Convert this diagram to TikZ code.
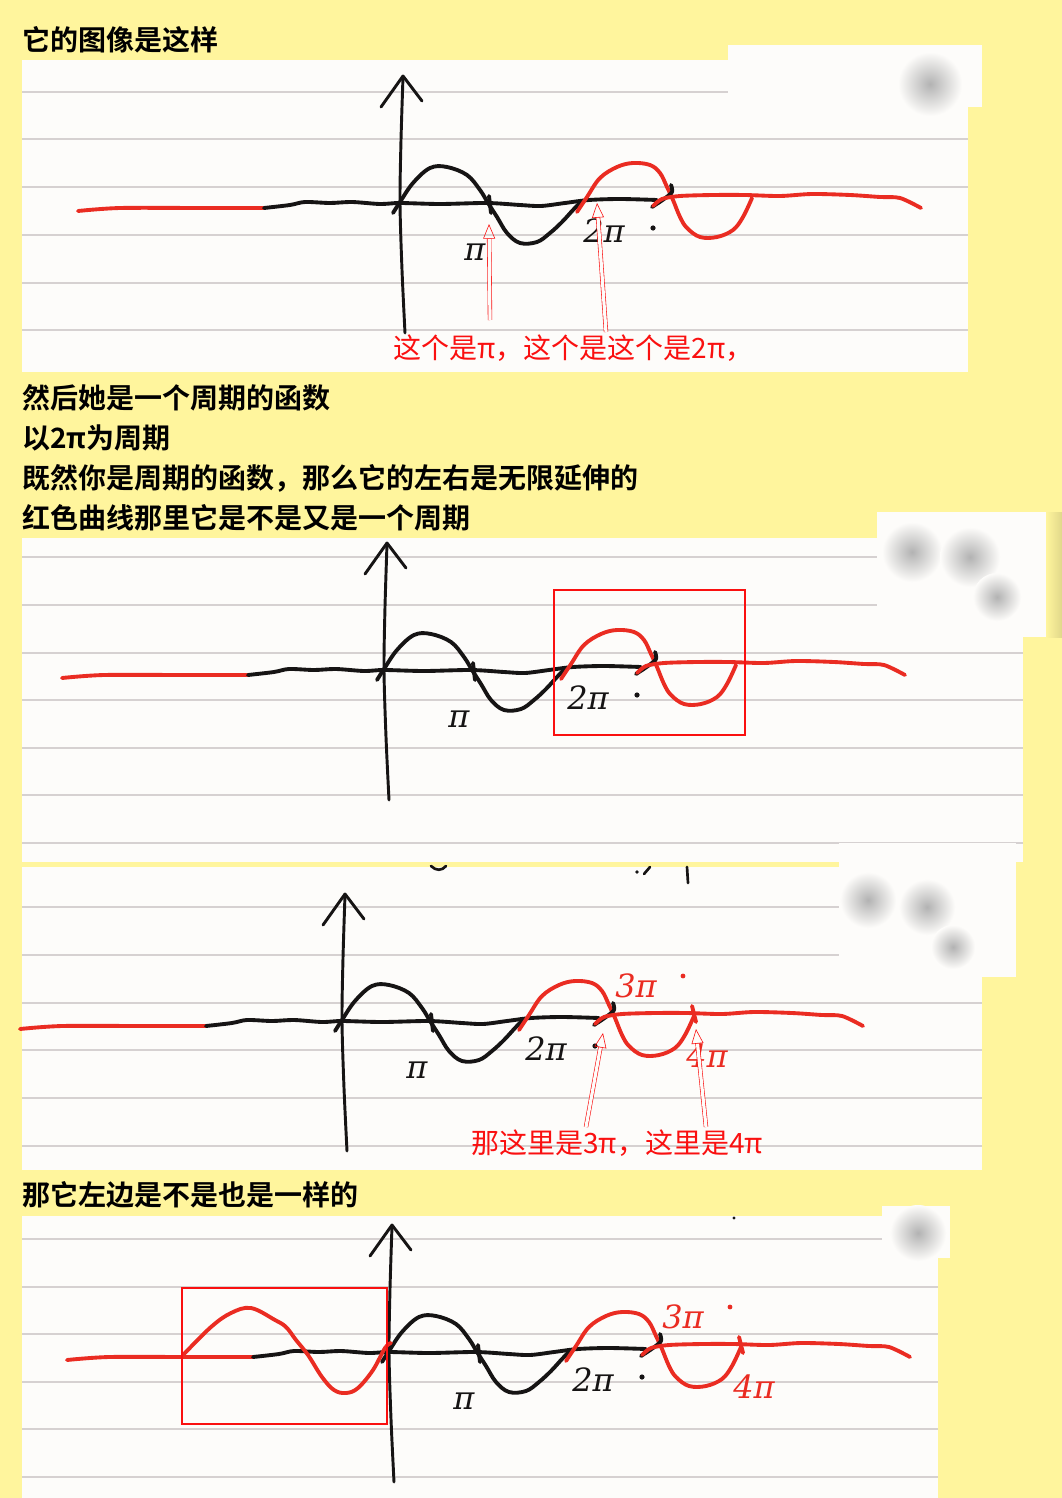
\documentclass[tikz,border=0pt]{standalone}
\usepackage{fontspec}
\newfontfamily\cjk{Noto Sans CJK SC}[BoldFont={Noto Sans CJK SC Bold}]
\newfontfamily\hand{DejaVu Serif}
\usetikzlibrary{arrows.meta}
\definecolor{notebg}{RGB}{255,245,157}
\definecolor{paper}{RGB}{253,252,250}
\definecolor{rulegray}{RGB}{214,209,209}
\definecolor{inkblack}{RGB}{22,20,20}
\definecolor{inkred}{RGB}{234,44,34}
\definecolor{annored}{RGB}{250,16,16}

% the hand-drawn sine sketch, in the coordinates of the first panel
\newcommand{\sinesketch}[1]{%
  \draw[axisink] plot[smooth] coordinates {(405,333) (402,270) (400,203) (401,140) (403,77)};
  \draw[axisink] (381,107) -- (403,76) -- (422,101);
  \draw[redink] plot[smooth] coordinates {(78,211) (120,208) (200,208) (264,208)};
  \draw[blackink] plot[smooth] coordinates {(264,208) (290,205) (305,202) (330,203) (352,202)
    (380,204) (400,203) (440,204) (487,203) (520,205) (541,206) (565,203) (589,200) (620,199) (657,200)};
  \draw[blackink] plot[smooth, tension=0.6] coordinates {(393,213) (400,202) (413,183) (430,168)
    (447,167) (467,175) (480,190) (488,203) (497,217) (507,233) (520,243) (537,242) (550,233)
    (562,222) (573,210) (580,203)};
  \draw[blackink] (489,196) -- (491,213);
  \draw[redink] plot[smooth, tension=0.6] coordinates {(577,212) (587,197) (600,178) (617,167)
    (633,163) (650,165) (660,173) (667,187) (673,200) (680,217) (687,228) (700,237) (717,237)
    (733,230) (743,217) (752,198)};
  \draw[blackink] plot[smooth] coordinates {(652,207) (664,199) (672,192) (671,185)};
  \draw[redink] plot[smooth] coordinates {(653,206) (662,199) (680,196) (713,195) (745,195)
    (780,196) (812,194) (850,195) (880,197) (900,198) (921,208)};
  \node[handblack] (pi-#1) at (475,252) {π};
  \node[handblack] (twopi-#1) at (604,231) {2π};
  \fill[inkblack] (653,228) circle (2.6);
}
% the red 3pi / 4pi marks of the later panels
\newcommand{\redmarks}[1]{%
  \node[handred] (threepi-#1) at (694,168) {3π};
  \fill[inkred] (741,158) circle (2.4);
  \draw[redink] (750,188) -- (754,204);
  \node[handred] (fourpi-#1) at (765,238) {4π};
}

\begin{document}
\begin{tikzpicture}[x=0.75pt, y=-0.75pt,
  heading/.style={anchor=west, inner sep=0pt, text=black,
                  font=\cjk\bfseries\fontsize{21}{21}\selectfont},
  annotext/.style={anchor=west, inner sep=0pt, text=annored,
                   font=\cjk\fontsize{21}{21}\selectfont},
  handblack/.style={inner sep=0pt, text=inkblack, font=\hand\itshape\fontsize{24}{24}\selectfont},
  handred/.style={handblack, text=inkred},
  rulel/.style={draw=rulegray, line width=1.1pt},
  blackink/.style={draw=inkblack, line width=2.9pt, line cap=round, line join=round},
  axisink/.style={blackink, line width=2.2pt},
  redink/.style={draw=inkred, line width=2.9pt, line cap=round, line join=round},
  redbox/.style={draw=annored, line width=2pt},
  hollow/.style={draw=annored, line width=0.45pt, double=paper, double distance=2.4pt,
                 -{Triangle[open, length=11pt, width=9pt]}},
  blob/.style={inner color=black!30, outer color=paper}
]
  \fill[notebg] (0,0) rectangle (1062,1498);
  \useasboundingbox (0,0) rectangle (1062,1498);

  % panel 1
  \node[heading] (title1) at (22,40) {它的图像是这样};
  \fill[paper] (22,60) rectangle (968,372);
  \draw[rulel] (22,92) -- (728,92);
  \foreach \y in {139,187,235,283,330}
    \draw[rulel] (22,\y) -- (968,\y);
  \fill[paper] (728,45) rectangle (982,107);
  \shade[blob] (930,84) circle (32);
  \sinesketch{a}
  \node[annotext] (note-a) at (393,348) {这个是π，这个是这个是2π，};
  \coordinate (tail-a1) at (490,320);
  \coordinate (tip-a1) at (489,224);
  \coordinate (tail-a2) at (606,332);
  \coordinate (tip-a2) at (597,203);
  \draw[hollow] (tail-a1) -- (tip-a1);
  \draw[hollow] (tail-a2) -- (tip-a2);

  % text between
  \node[heading] (line1) at (22,398) {然后她是一个周期的函数};
  \node[heading] (line2) at (22,438) {以2π为周期};
  \node[heading] (line3) at (22,478) {既然你是周期的函数，那么它的左右是无限延伸的};
  \node[heading] (line4) at (22,518) {红色曲线那里它是不是又是一个周期};

  % panel 2
  \fill[paper] (22,538) rectangle (1023,862);
  \foreach \y in {557,605}
    \draw[rulel] (22,\y) -- (877,\y);
  \foreach \y in {653,700,748,795,843}
    \draw[rulel] (22,\y) -- (1023,\y);
  \fill[paper] (877,512) rectangle (1046,637);
  \shade[left color=notebg, right color=notebg!88!black] (1046,512) rectangle (1062,637);
  \shade[blob] (912,552) circle (30);
  \shade[blob] (970,557) circle (30);
  \shade[blob] (997,597) circle (24);
  \begin{scope}[shift={(-16,467)}]
    \sinesketch{b}
  \end{scope}
  \draw[redbox] (554,590) rectangle (745,735);

  % panel 3
  \fill[paper] (22,867) rectangle (982,1170);
  \foreach \y in {907,955}
    \draw[rulel] (22,\y) -- (839,\y);
  \foreach \y in {1003,1050,1098,1146}
    \draw[rulel] (22,\y) -- (982,\y);
  \fill[paper] (839,843) rectangle (1016,977);
  \shade[blob] (868,900) circle (28);
  \shade[blob] (927,907) circle (28);
  \shade[blob] (953,947) circle (22);
  \draw[blackink, line width=2pt] (431,866) .. controls (436,871) and (442,871) .. (446,866);
  \fill[inkblack] (637,872) circle (1.8);
  \draw[blackink, line width=2pt] (644,874) -- (650,867);
  \draw[blackink, line width=2pt] (687,867) -- (688,883);
  \begin{scope}[shift={(-58,818)}]
    \sinesketch{c}
    \redmarks{c}
  \end{scope}
  \node[annotext] (note-c) at (471,1143) {那这里是3π，这里是4π};
  \coordinate (tail-c1) at (586,1127);
  \coordinate (tip-c1) at (603,1033);
  \coordinate (tail-c2) at (706,1127);
  \coordinate (tip-c2) at (696,1029);
  \draw[hollow] (tail-c1) -- (tip-c1);
  \draw[hollow] (tail-c2) -- (tip-c2);

  % panel 4
  \node[heading] (line5) at (22,1195) {那它左边是不是也是一样的};
  \fill[paper] (22,1216) rectangle (938,1498);
  \draw[rulel] (22,1239) -- (882,1239);
  \foreach \y in {1287,1334,1382,1429,1477}
    \draw[rulel] (22,\y) -- (938,\y);
  \fill[paper] (882,1206) rectangle (950,1258);
  \shade[blob] (918,1233) circle (28);
  \fill[inkblack] (734,1218) circle (1.6);
  \begin{scope}[shift={(-11,1149)}]
    \sinesketch{d}
    \redmarks{d}
  \end{scope}
  \draw[redink] plot[smooth, tension=0.6] coordinates {(184,1354) (211,1327) (231,1313)
    (251,1308) (275,1320) (286,1327) (296,1340) (308,1355) (322,1377) (334,1390) (346,1393)
    (358,1388) (373,1370) (385,1348) (391,1343)};
  \draw[redbox] (182,1288) rectangle (387,1424);
\end{tikzpicture}
\end{document}
